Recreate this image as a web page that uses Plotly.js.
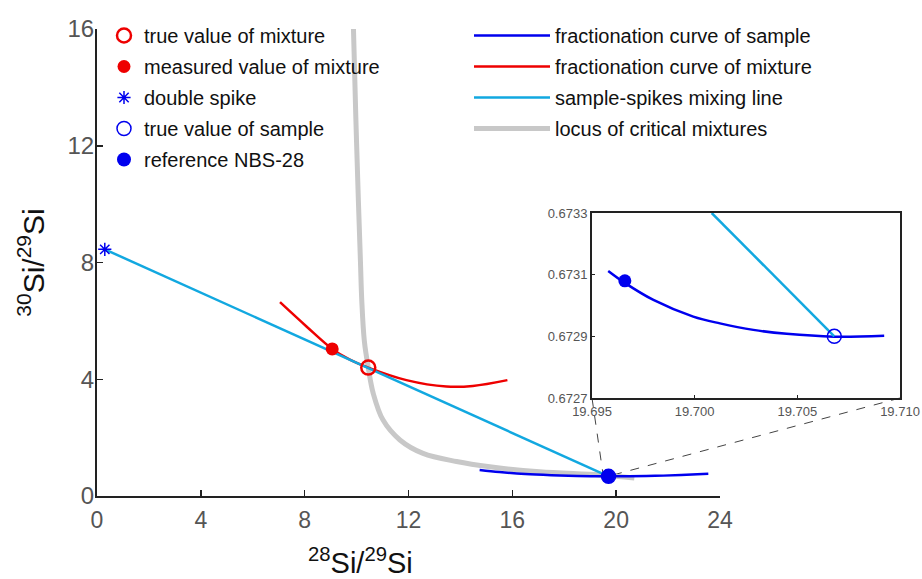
<!DOCTYPE html>
<html>
<head>
<meta charset="utf-8">
<script src="https://cdn.plot.ly/plotly-3.0.1.min.js"></script>
<style>html,body{margin:0;padding:0;background:#fff;}#chart{width:922px;height:579px;}</style>
</head>
<body>
<div id="chart"></div>
<script>
// ---- data ----
const spikeX = [0.3];
const spikeY = [8.45];
const sampleTrueX = [19.7068];
const sampleTrueY = [0.6729];
const refNBSX = [19.6966];
const refNBSY = [0.67308];
const mixTrueX = [10.45];
const mixTrueY = [4.40];
const mixMeasX = [9.06];
const mixMeasY = [5.04];

const mixCurveX = [7.05, 8.08, 9.06, 9.74, 10.45, 11.92, 13.46, 14.48, 15.81];
const mixCurveY = [6.64, 5.80, 5.04, 4.67, 4.40, 3.97, 3.75, 3.77, 3.97];

const sampleCurveX = [14.74, 15.5, 16.5, 17.5, 18.5, 19.7, 20.5, 21.5, 22.5, 23.55];
const sampleCurveY = [0.89, 0.82, 0.75, 0.71, 0.685, 0.673, 0.675, 0.69, 0.72, 0.76];

const locusX = [9.88, 9.97, 10.07, 10.15, 10.2, 10.3, 10.45, 10.64, 11.02, 11.67, 12.56, 13.85, 15.13, 17.05, 19.36, 20.7];
const locusY = [16.0, 13.0, 10.1, 8.0, 6.7, 5.3, 4.4, 3.52, 2.6, 1.92, 1.46, 1.18, 1.0, 0.83, 0.72, 0.62];

// inset (zoom on the sample)
const insetCurveX = [19.69579, 19.69656, 19.69799, 19.69993, 19.70123, 19.70286, 19.70448, 19.7068, 19.70923];
const insetCurveY = [0.673112, 0.673075, 0.673018, 0.672964, 0.672942, 0.672921, 0.672908, 0.672899, 0.672902];
const insetMixX = [19.70083, 19.7068];
const insetMixY = [0.6733, 0.6729];

const xTicks = [0, 4, 8, 12, 16, 20, 24];
const yTicks = [0, 4, 8, 12, 16];
const insetXTicks = [19.695, 19.700, 19.705, 19.710];
const insetYTicks = [0.6727, 0.6729, 0.6731, 0.6733];

// ---- styles ----
const BLUE = '#0000ee';
const RED = '#ee0000';
const CYAN = '#12a8e0';
const GRAY = '#c8c8c8';
const FONT = 'Liberation Sans, Arial, sans-serif';

const traces = [
  {x: locusX, y: locusY, mode: 'lines', name: 'locus of critical mixtures', line: {color: GRAY, width: 5, shape: 'spline'}, legend: 'legend2', legendrank: 4, legendgroup: 'g4'},
  {x: sampleCurveX, y: sampleCurveY, mode: 'lines', name: 'fractionation curve of sample', line: {color: BLUE, width: 2.5, shape: 'spline'}, legend: 'legend2', legendrank: 1, legendgroup: 'g1'},
  {x: mixCurveX, y: mixCurveY, mode: 'lines', name: 'fractionation curve of mixture', line: {color: RED, width: 2.5, shape: 'spline'}, legend: 'legend2', legendrank: 2, legendgroup: 'g2'},
  {x: [spikeX[0], sampleTrueX[0]], y: [spikeY[0], sampleTrueY[0]], mode: 'lines', name: 'sample-spikes mixing line', line: {color: CYAN, width: 2.5}, legend: 'legend2', legendrank: 3, legendgroup: 'g3'},

  {x: mixTrueX, y: mixTrueY, mode: 'markers', name: 'true value of mixture', marker: {symbol: 'circle-open', size: 14, color: RED, line: {width: 2.5}}, legend: 'legend', legendrank: 1, legendgroup: 'm1'},
  {x: mixMeasX, y: mixMeasY, mode: 'markers', name: 'measured value of mixture', marker: {symbol: 'circle', size: 13, color: RED}, legend: 'legend', legendrank: 2, legendgroup: 'm2'},
  {x: spikeX, y: spikeY, mode: 'markers', name: 'double spike', marker: {symbol: 'asterisk-open', size: 11, color: BLUE, line: {width: 1.5, color: BLUE}}, legend: 'legend', legendrank: 3, legendgroup: 'm3'},
  {x: sampleTrueX, y: sampleTrueY, mode: 'markers', name: 'true value of sample', marker: {symbol: 'circle-open', size: 14, color: BLUE, line: {width: 1.5}}, legend: 'legend', legendrank: 4, legendgroup: 'm4'},
  {x: refNBSX, y: refNBSY, mode: 'markers', name: 'reference NBS-28', marker: {symbol: 'circle', size: 14, color: BLUE}, legend: 'legend', legendrank: 5, legendgroup: 'm5'},

  // inset
  {x: insetCurveX, y: insetCurveY, xaxis: 'x2', yaxis: 'y2', mode: 'lines', line: {color: BLUE, width: 2.5, shape: 'spline'}, showlegend: false, hoverinfo: 'skip'},
  {x: insetMixX, y: insetMixY, xaxis: 'x2', yaxis: 'y2', mode: 'lines', line: {color: CYAN, width: 2.5}, showlegend: false, hoverinfo: 'skip'},
  {x: sampleTrueX, y: sampleTrueY, xaxis: 'x2', yaxis: 'y2', mode: 'markers', marker: {symbol: 'circle-open', size: 14, color: BLUE, line: {width: 1.5}}, showlegend: false},
  {x: refNBSX, y: refNBSY, xaxis: 'x2', yaxis: 'y2', mode: 'markers', marker: {symbol: 'circle', size: 13, color: BLUE}, showlegend: false}
];

// paper geometry helpers (margins l=97, r=20, t=29, b=83)
const L = 97, R = 20, T = 29, B = 83, W = 922, H = 579;
const PW = W - L - R, PH = H - T - B;
const px = v => (v - L) / PW;
const py = v => (H - B - v) / PH;

const layout = {
  width: W, height: H,
  margin: {l: L, r: R, t: T, b: B, pad: 0},
  paper_bgcolor: '#fff', plot_bgcolor: 'rgba(0,0,0,0)',
  font: {family: FONT, color: '#111'},
  showlegend: true,
  xaxis: {
    domain: [0, px(720)], range: [0, 24], tickvals: xTicks, ticktext: xTicks.map(String),
    showline: true, linecolor: '#222', linewidth: 2, showgrid: false, zeroline: false,
    ticks: 'inside', ticklen: 6, tickwidth: 1.5, tickcolor: '#222',
    tickfont: {family: FONT, size: 23, color: '#555'}, ticklabelstandoff: 2
  },
  yaxis: {
    domain: [0, 1], range: [0, 16], tickvals: yTicks, ticktext: yTicks.map(String),
    showline: true, linecolor: '#222', linewidth: 2, showgrid: false, zeroline: false,
    ticks: 'inside', ticklen: 6, tickwidth: 1.5, tickcolor: '#222',
    tickfont: {family: FONT, size: 24, color: '#555'}, ticklabelstandoff: -4,
    title: {text: '<sup>30</sup>Si/<sup>29</sup>Si', font: {family: FONT, size: 30, color: '#111'}, standoff: 14}
  },
  xaxis2: {
    domain: [px(592), px(900)], anchor: 'y2', range: [19.695, 19.710],
    tickvals: insetXTicks, ticktext: insetXTicks.map(v => v.toFixed(3)),
    showline: true, mirror: true, linecolor: '#222', linewidth: 2, showgrid: false, zeroline: false,
    ticks: 'inside', ticklen: 3, tickcolor: '#222',
    tickfont: {family: FONT, size: 13, color: '#555'}
  },
  yaxis2: {
    domain: [py(398), py(213)], anchor: 'x2', range: [0.6727, 0.6733],
    tickvals: insetYTicks, ticktext: insetYTicks.map(v => v.toFixed(4)),
    showline: true, mirror: true, linecolor: '#222', linewidth: 2, showgrid: false, zeroline: false,
    ticks: 'inside', ticklen: 3, tickcolor: '#222',
    tickfont: {family: FONT, size: 13, color: '#555'}
  },
  legend: {
    x: px(104), y: py(16), xanchor: 'left', yanchor: 'top',
    bgcolor: 'rgba(0,0,0,0)', borderwidth: 0,
    font: {family: FONT, size: 20, color: '#111'}, tracegroupgap: 2, itemwidth: 30
  },
  legend2: {
    x: px(469), y: py(16), xanchor: 'left', yanchor: 'top',
    bgcolor: 'rgba(0,0,0,0)', borderwidth: 0,
    font: {family: FONT, size: 20, color: '#111'}, tracegroupgap: 2, itemwidth: 76
  },
  annotations: [
    {text: '<sup>28</sup>Si/<sup>29</sup>Si', xref: 'paper', yref: 'paper', x: px(360), y: py(561),
     xanchor: 'center', yanchor: 'middle', showarrow: false, font: {family: FONT, size: 29, color: '#111'}}
  ],
  shapes: [
    {type: 'line', xref: 'paper', yref: 'paper', x0: px(592), y0: py(398), x1: px(603), y1: py(474), line: {color: '#444', width: 1, dash: 'dash'}, layer: 'below'},
    {type: 'line', xref: 'paper', yref: 'paper', x0: px(613), y0: py(475), x1: px(900), y1: py(398), line: {color: '#444', width: 1, dash: 'dash'}, layer: 'below'}
  ]
};

Plotly.newPlot('chart', traces, layout, {displayModeBar: false, staticPlot: true});
</script>
</body>
</html>
